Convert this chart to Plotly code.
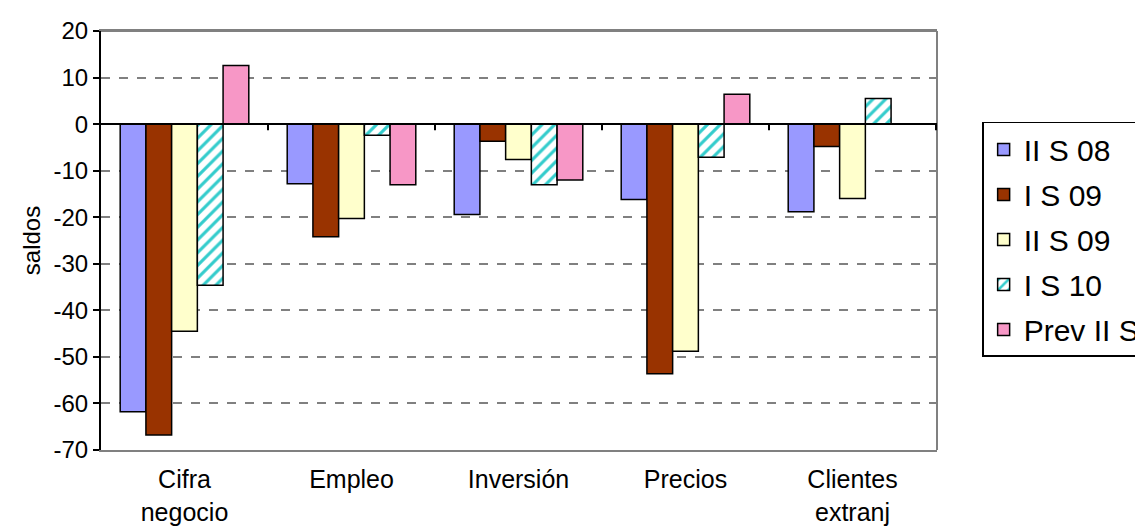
import plotly.graph_objects as go

categories = ["Cifra<br>negocio", "Empleo", "Inversión", "Precios", "Clientes<br>extranj"]
series_names = ["II S 08", "I S 09", "II S 09", "I S 10", "Prev II S 10"]
ii_s_08 = [-61.8, -12.8, -19.4, -16.2, -18.8]
i_s_09 = [-66.8, -24.2, -3.7, -53.6, -4.8]
ii_s_09 = [-44.5, -20.3, -7.6, -48.8, -16.0]
i_s_10 = [-34.6, -2.4, -13.0, -7.1, 5.5]
prev_ii_s_10 = [12.6, -13.0, -12.0, 6.4, None]
y_ticks = [20, 10, 0, -10, -20, -30, -40, -50, -60, -70]

values = [ii_s_08, i_s_09, ii_s_09, i_s_10, prev_ii_s_10]
colors = ["#9999FF", "#993300", "#FFFFCC", "#FFFFFF", "#F797C6"]

fig = go.Figure()
for i, (name, vals, col) in enumerate(zip(series_names, values, colors)):
    marker = dict(color=col, line=dict(color="black", width=1.5))
    if i == 3:
        marker["pattern"] = dict(shape="/", fgcolor="#33CCCC", bgcolor="white",
                                 size=9, solidity=0.35, fillmode="replace")
    fig.add_trace(go.Bar(x=categories, y=vals, name=name, marker=marker,
                         legendgroup=str(i)))

font = "Arial, 'Liberation Sans', sans-serif"
fig.update_layout(
    width=1143, height=532,
    margin=dict(l=93, r=214, t=23, b=90, autoexpand=False),
    paper_bgcolor="white", plot_bgcolor="white",
    barmode="group", bargap=0.23, bargroupgap=0,
    font=dict(family=font, color="black"),
    showlegend=True,
    legend=dict(x=1.054, xanchor="left", y=0.783, yanchor="top",
                bordercolor="black", borderwidth=1.5, bgcolor="white",
                font=dict(size=30, family=font), tracegroupgap=3,
                itemwidth=30),
)
fig.update_yaxes(range=[-70, 20], tickvals=y_ticks,
                 ticktext=[str(v) for v in y_ticks],
                 showgrid=True, gridcolor="#808080",
                 griddash="dash", gridwidth=1.5, zeroline=False,
                 showline=True, linecolor="black", linewidth=2,
                 ticks="outside", ticklen=6, tickwidth=2, tickcolor="black",
                 tickfont=dict(size=24, family=font),
                 title=dict(text="saldos", font=dict(size=24, family=font), standoff=6))
fig.update_xaxes(showline=True, linecolor="#808080", linewidth=2, mirror=True,
                 ticks="", tickfont=dict(size=25, family=font),
                 ticklabelstandoff=6)
# right/top border of plot area in gray
fig.add_shape(type="line", xref="paper", yref="paper", x0=1, x1=1, y0=0, y1=1,
              line=dict(color="#808080", width=2))
fig.add_shape(type="line", xref="paper", yref="paper", x0=0, x1=1, y0=1, y1=1,
              line=dict(color="#808080", width=2))
# zero axis line with category boundary ticks
fig.add_shape(type="line", xref="paper", yref="y", x0=0, x1=1, y0=0, y1=0,
              line=dict(color="black", width=2))
for k in range(1, len(categories) + 1):
    fig.add_shape(type="line", xref="x", yref="y", x0=k - 0.5, x1=k - 0.5,
                  y0=0, y1=-1.3, line=dict(color="black", width=2))

fig.write_html("out.html")
